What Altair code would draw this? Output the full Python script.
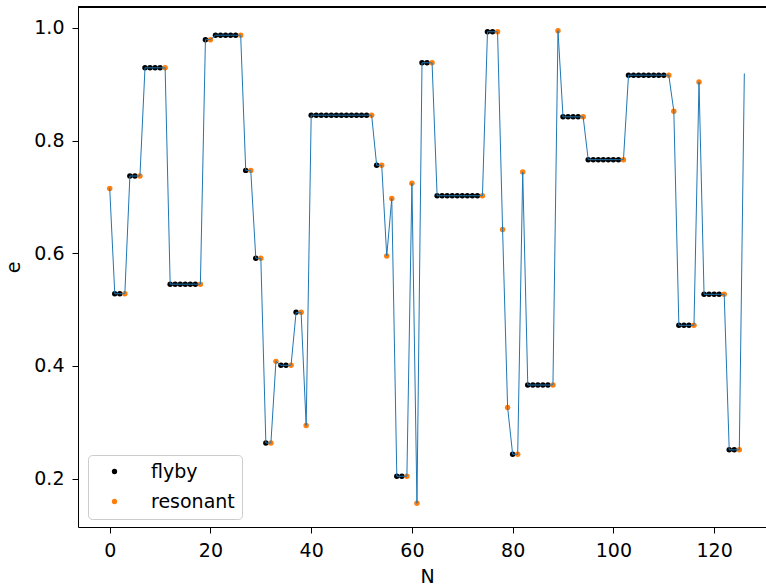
import altair as alt
import pandas as pd

# eccentricity e for each N = 0..126
E_VALUES = [
    0.715,
    0.528, 0.528, 0.528,
    0.737, 0.737, 0.737,
    0.929, 0.929, 0.929, 0.929, 0.929,
    0.545, 0.545, 0.545, 0.545, 0.545, 0.545, 0.545,
    0.979, 0.979,
    0.987, 0.987, 0.987, 0.987, 0.987, 0.987,
    0.747, 0.747,
    0.591, 0.591,
    0.263, 0.263,
    0.408,
    0.401, 0.401, 0.401,
    0.495, 0.495,
    0.294,
    0.845, 0.845, 0.845, 0.845, 0.845, 0.845, 0.845, 0.845, 0.845, 0.845, 0.845, 0.845, 0.845,
    0.756, 0.756,
    0.595,
    0.697,
    0.204, 0.204, 0.204,
    0.724,
    0.156,
    0.938, 0.938, 0.938,
    0.702, 0.702, 0.702, 0.702, 0.702, 0.702, 0.702, 0.702, 0.702, 0.702,
    0.993, 0.993, 0.993,
    0.642,
    0.326,
    0.243, 0.243,
    0.744,
    0.366, 0.366, 0.366, 0.366, 0.366, 0.366,
    0.995,
    0.842, 0.842, 0.842, 0.842, 0.842,
    0.766, 0.766, 0.766, 0.766, 0.766, 0.766, 0.766, 0.766,
    0.916, 0.916, 0.916, 0.916, 0.916, 0.916, 0.916, 0.916, 0.916,
    0.852,
    0.472, 0.472, 0.472, 0.472,
    0.904,
    0.527, 0.527, 0.527, 0.527, 0.527,
    0.251, 0.251, 0.251,
    0.919,
]

# marker kind per point: F = flyby, R = resonant, - = no marker
KIND_GROUPS = [
    "R", "FFR", "FFR", "FFFFR", "FFFFFFR", "FR", "FFFFFR", "FR", "FR", "FR",
    "R", "FFR", "FR", "R", "FFFFFFFFFFFFR", "FR", "R", "R", "FFR", "R", "R",
    "FFR", "FFFFFFFFFR", "FFR", "R", "R", "FR", "R", "FFFFFR", "R", "FFFFR",
    "FFFFFFFR", "FFFFFFFFR", "R", "FFFR", "R", "FFFFR", "FFR", "-",
]
KIND_NAMES = {"F": "flyby", "R": "resonant", "-": None}

kinds = [KIND_NAMES[c] for c in "".join(KIND_GROUPS)]
assert len(kinds) == len(E_VALUES)

df = pd.DataFrame({"N": list(range(len(E_VALUES))), "e": E_VALUES, "kind": kinds})
pts = df[df["kind"].notna()]

FONT = "DejaVu Sans"
FS = 19

x_enc = alt.X(
    "N:Q",
    scale=alt.Scale(domain=[-6.3, 130.3], nice=False, zero=False),
    axis=alt.Axis(values=[0, 20, 40, 60, 80, 100, 120], title="N", titleX=349, titleY=49,
                  titleBaseline="middle", titleAlign="center"),
)
y_enc = alt.Y(
    "e:Q",
    scale=alt.Scale(domain=[0.114, 1.037], nice=False, zero=False),
    axis=alt.Axis(values=[0.2, 0.4, 0.6, 0.8, 1.0], format=".1f", title="e",
                  titleX=-65, titleY=260, titleBaseline="middle", titleAlign="center", titleAngle=-90),
)

points = alt.Chart(pts).mark_circle(size=30, opacity=1).encode(
    x=x_enc,
    y=y_enc,
    color=alt.Color(
        "kind:N",
        scale=alt.Scale(domain=["flyby", "resonant"], range=["#000000", "#ff7f0e"]),
        legend=alt.Legend(title=None, orient="none", legendX=10, legendY=448),
    ),
)

line = alt.Chart(df).mark_line(color="#1f77b4", strokeWidth=1).encode(x=x_enc, y=y_enc)

top_spine = alt.Chart(df).mark_rule(color="black", strokeWidth=1).encode(
    x=alt.value(0), x2=alt.value(688), y=alt.value(0)
)

chart = (
    alt.layer(points, line, top_spine)
    .properties(width=688, height=520,
                autosize=alt.AutoSizeParams(type="none"),
                padding={"left": 78, "top": 7, "right": 0, "bottom": 60})
    .configure_view(stroke=None)
    .configure_axis(
        grid=False,
        domainColor="black",
        domainWidth=1,
        tickColor="black",
        tickWidth=1,
        tickSize=6,
        labelFont=FONT,
        labelFontSize=FS,
        labelColor="black",
        labelPadding=8,
        titleFont=FONT,
        titleFontSize=FS,
        titleFontWeight="normal",
        titleColor="black",
        labelFlush=False,
        labelOverlap=False,
    )
    .configure_legend(
        labelFont=FONT,
        labelFontSize=FS,
        labelColor="black",
        symbolSize=28,
        symbolType="circle",
        symbolStrokeWidth=0,
        symbolOpacity=1,
        padding=7,
        rowPadding=10,
        symbolOffset=10,
        labelOffset=27,
        strokeColor="#cccccc",
        fillColor="white",
        cornerRadius=4,
    )
)

chart.save("out.html", embed_options={"renderer": "svg", "actions": False})
